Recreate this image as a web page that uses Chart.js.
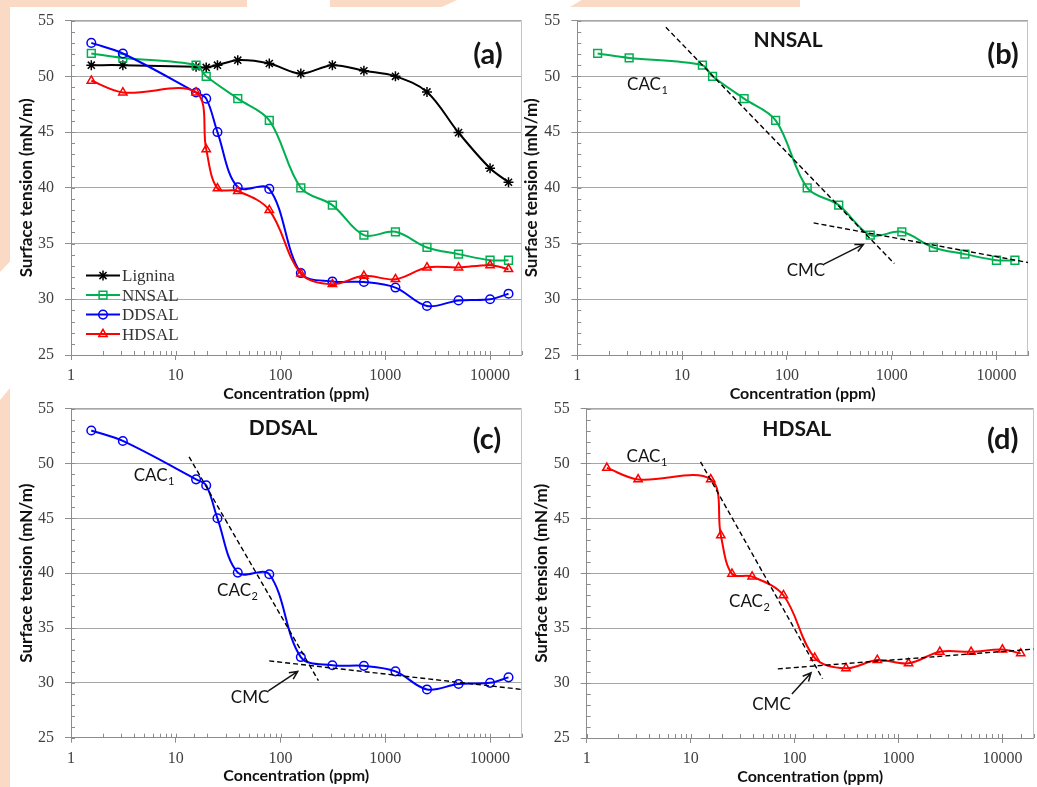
<!DOCTYPE html>
<html>
<head>
<meta charset="utf-8">
<script src="https://cdn.jsdelivr.net/npm/chart.js@4.4.1/dist/chart.umd.min.js"></script>
<style>
  html, body { margin: 0; padding: 0; background: #fff; width: 1037px; height: 787px; overflow: hidden; }
  .deco { position: absolute; background: #fadac4; }
  canvas { position: absolute; }
</style>
</head>
<body>
<div class="deco" style="left:0;top:0;width:247px;height:7px"></div>
<div class="deco" style="left:330px;top:0;width:127px;height:7px;clip-path:polygon(0 0,100% 0,88% 100%,0 100%)"></div>
<div class="deco" style="left:570px;top:0;width:230px;height:7px;clip-path:polygon(5% 0,100% 0,100% 100%,0 100%)"></div>
<div class="deco" style="left:0;top:7px;width:10px;height:265px;clip-path:polygon(0 0,100% 0,100% 96%,0 100%)"></div>
<div class="deco" style="left:0;top:388px;width:10px;height:399px;clip-path:polygon(0 3%,100% 0,100% 100%,0 100%)"></div>

<canvas id="chartA" width="530" height="406" style="left:0;top:0"></canvas>
<canvas id="chartB" width="517" height="406" style="left:520px;top:0"></canvas>
<canvas id="chartC" width="530" height="399" style="left:0;top:388px"></canvas>
<canvas id="chartD" width="520" height="399" style="left:520px;top:388px"></canvas>

<script>
// concentración (ppm) y tensión superficial (mN/m)
const concentration = [1.5625, 3.125, 15.625, 19.53, 25, 39.06, 78.125, 156.25, 312.5, 625, 1250, 2500, 5000, 10000, 15000];
const lignina = [51.0, 51.0, 50.85, 50.8, 51.0, 51.45, 51.15, 50.25, 51.0, 50.5, 50.0, 48.6, 44.95, 41.75, 40.5];
const nnsal   = [52.05, 51.65, 51.0, 50.0, null, 48.0, 46.05, 40.0, 38.45, 35.75, 36.05, 34.65, 34.05, 33.5, 33.5];
const ddsal   = [53.0, 52.05, 48.55, 48.0, 45.0, 40.05, 39.9, 32.35, 31.6, 31.55, 31.05, 29.4, 29.9, 30.0, 30.5];
const hdsal   = [49.6, 48.55, 48.55, 43.45, 39.95, 39.7, 38.0, 32.3, 31.35, 32.1, 31.8, 32.85, 32.85, 33.05, 32.7];

const xTickLabels = [1, 10, 100, 1000, 10000];
const yTickLabels = [25, 30, 35, 40, 45, 50, 55];

// rectas tangentes (líneas discontinuas)
const nnsalSlopeX = [7, 1060],      nnsalSlopeY = [54.4, 33.2];
const nnsalPlateauX = [180, 20000], nnsalPlateauY = [36.85, 33.3];
const ddsalSlopeX = [13.4, 230],    ddsalSlopeY = [50.6, 30.2];
const ddsalPlateauX = [78, 20000],  ddsalPlateauY = [32.0, 29.4];
const hdsalSlopeX = [12.45, 186],   hdsalSlopeY = [50.15, 30.4];
const hdsalPlateauX = [69, 20000],  hdsalPlateauY = [31.3, 33.1];

const axisColor = '#8c8c8c';
const gridColor = '#a6a6a6';
const frameColor = '#c4c4c4';
const clear = 'rgba(0,0,0,0)';

function series(label, values, color, style, radius, order) {
  return {
    label: label,
    order: order,
    data: concentration.map((x, i) => ({ x: x, y: values[i] })).filter(p => p.y !== null),
    borderColor: color,
    borderWidth: 2,
    tension: 0.35,
    pointStyle: style,
    pointRadius: radius,
    pointHoverRadius: radius,
    pointBorderWidth: 1.5,
    pointBorderColor: color,
    pointBackgroundColor: clear
  };
}

function guide(xs, ys) {
  return {
    label: '',
    order: 0,
    data: xs.map((x, i) => ({ x: x, y: ys[i] })),
    borderColor: '#000',
    borderWidth: 1.4,
    borderDash: [5, 3],
    pointRadius: 0,
    tension: 0
  };
}

const sLignina = () => series('Lignina', lignina, '#000000', 'star', 5, 4);
const sNnsal = () => series('NNSAL', nnsal, '#00b050', 'rect', 5.5, 3);
const sDdsal = () => series('DDSAL', ddsal, '#0000ff', 'circle', 4.3, 2);
const sHdsal = () => series('HDSAL', hdsal, '#ff0000', 'triangle', 4.8, 1);

// marco del área de trazado y marcas menores hacia dentro
const frameTicks = {
  id: 'frameTicks',
  beforeDatasetsDraw(chart) {
    const { ctx, chartArea: a, scales: { x, y } } = chart;
    ctx.save();
    ctx.lineWidth = 1;
    ctx.strokeStyle = frameColor;
    ctx.beginPath();
    ctx.moveTo(a.left, Math.round(a.top) + 0.5);
    ctx.lineTo(Math.round(a.right) - 0.5, Math.round(a.top) + 0.5);
    ctx.lineTo(Math.round(a.right) - 0.5, a.bottom);
    ctx.stroke();
    ctx.strokeStyle = axisColor;
    ctx.beginPath();
    x.ticks.forEach(t => {
      const px = Math.round(x.getPixelForValue(t.value)) + 0.5;
      ctx.moveTo(px, a.bottom);
      ctx.lineTo(px, a.bottom - 4);
    });
    y.ticks.forEach(t => {
      const py = Math.round(y.getPixelForValue(t.value)) + 0.5;
      ctx.moveTo(a.left, py);
      ctx.lineTo(a.left + 4, py);
    });
    ctx.stroke();
    ctx.restore();
  }
};

// textos, flechas y letras del panel
function notesPlugin(notes) {
  return {
    id: 'notes',
    afterDatasetsDraw(chart) {
      const { ctx, scales: { x, y } } = chart;
      ctx.save();
      ctx.fillStyle = '#141414';
      ctx.strokeStyle = '#141414';
      ctx.textBaseline = 'middle';
      notes.forEach(n => {
        if (n.arrow) {
          const x0 = x.getPixelForValue(n.arrow[0]), y0 = y.getPixelForValue(n.arrow[1]);
          const x1 = x.getPixelForValue(n.arrow[2]), y1 = y.getPixelForValue(n.arrow[3]);
          const ang = Math.atan2(y1 - y0, x1 - x0);
          ctx.lineWidth = 1.5;
          ctx.beginPath();
          ctx.moveTo(x0, y0);
          ctx.lineTo(x1, y1);
          ctx.moveTo(x1 - 9 * Math.cos(ang - 0.45), y1 - 9 * Math.sin(ang - 0.45));
          ctx.lineTo(x1, y1);
          ctx.lineTo(x1 - 9 * Math.cos(ang + 0.45), y1 - 9 * Math.sin(ang + 0.45));
          ctx.stroke();
          return;
        }
        const px = x.getPixelForValue(n.x), py = y.getPixelForValue(n.y);
        ctx.font = n.font;
        ctx.textAlign = 'center';
        ctx.fillText(n.text, px, py);
        if (n.sub) {
          const w = ctx.measureText(n.text).width;
          ctx.font = '11px Lato';
          ctx.textAlign = 'left';
          ctx.fillText(n.sub, px + w / 2 + 0.5, py + 6);
        }
      });
      ctx.restore();
    }
  };
}

// leyenda dentro del área (panel a)
const insideLegend = {
  id: 'insideLegend',
  afterDatasetsDraw(chart) {
    const { ctx, chartArea: a } = chart;
    const order = ['Lignina', 'NNSAL', 'DDSAL', 'HDSAL'];
    ctx.save();
    order.forEach((name, i) => {
      const ds = chart.data.datasets.find(d => d.label === name);
      const x0 = a.left + 15, yy = a.top + 255 + i * 19.5;
      ctx.strokeStyle = ds.borderColor;
      ctx.lineWidth = 2;
      ctx.setLineDash([]);
      ctx.beginPath();
      ctx.moveTo(x0, yy);
      ctx.lineTo(x0 + 34, yy);
      ctx.stroke();
      ctx.lineWidth = 1.5;
      ctx.fillStyle = clear;
      Chart.helpers.drawPoint(ctx, { pointStyle: ds.pointStyle, radius: ds.pointRadius, borderWidth: 1.5, rotation: 0 }, x0 + 17, yy);
      ctx.fillStyle = '#333';
      ctx.font = '17px "Liberation Serif"';
      ctx.textAlign = 'left';
      ctx.textBaseline = 'middle';
      ctx.fillText(name, x0 + 36, yy + 1);
    });
    ctx.restore();
  }
};

const titleFont = 'bold 21px Lato';
const letterFont = 'bold 29px Lato';
const noteFont = '17px Lato';

function makePanel(id, box, area, datasets, notes, extra) {
  const yWidth = area.L - box.x - box.padLeft;
  const xHeight = 48;
  const plugins = [frameTicks, notesPlugin(notes)].concat(extra || []);
  new Chart(document.getElementById(id), {
    type: 'line',
    data: { datasets: datasets },
    options: {
      responsive: false,
      animation: false,
      layout: {
        padding: {
          left: box.padLeft,
          top: area.T - box.y,
          right: box.x + box.w - area.R,
          bottom: box.y + box.h - area.B - xHeight
        }
      },
      plugins: { legend: { display: false }, tooltip: { enabled: false } },
      scales: {
        x: {
          type: 'logarithmic',
          min: 1,
          max: 20000,
          afterFit: s => { s.height = xHeight; },
          border: { color: axisColor },
          grid: {
            drawOnChartArea: false,
            tickLength: 5,
            tickColor: c => xTickLabels.includes(c.tick.value) ? axisColor : clear
          },
          ticks: {
            autoSkip: false,
            maxRotation: 0,
            padding: 6,
            color: '#404040',
            font: { family: '"Liberation Serif"', size: 16 },
            callback: v => xTickLabels.includes(v) ? String(v) : ''
          },
          title: {
            display: true,
            text: 'Concentration (ppm)',
            color: '#111',
            padding: 0,
            font: { family: 'Lato', size: 16, weight: 'bold' }
          }
        },
        y: {
          min: 25,
          max: 55,
          afterFit: s => { s.width = yWidth; },
          border: { color: axisColor },
          grid: {
            tickLength: 6,
            color: c => yTickLabels.includes(c.tick.value) ? gridColor : clear,
            tickColor: c => yTickLabels.includes(c.tick.value) ? axisColor : clear
          },
          ticks: {
            stepSize: 1,
            autoSkip: false,
            padding: 11,
            color: '#404040',
            font: { family: '"Liberation Serif"', size: 16 },
            callback: v => yTickLabels.includes(v) ? String(v) : ''
          },
          title: {
            display: true,
            text: 'Surface tension (mN/m)',
            color: '#111',
            padding: 0,
            font: { family: 'Lato', size: 17, weight: 'bold' }
          }
        }
      }
    },
    plugins: plugins
  });
}

// (a) todas las series
makePanel('chartA',
  { x: 0, y: 0, w: 530, h: 406, padLeft: 16 },
  { L: 71, T: 17.3, R: 521.6, B: 355 },
  [sLignina(), sNnsal(), sDdsal(), sHdsal()],
  [{ text: '(a)', x: 9550, y: 51.92, font: letterFont }],
  [insideLegend]);

// (b) NNSAL
makePanel('chartB',
  { x: 520, y: 0, w: 517, h: 406, padLeft: 1 },
  { L: 577.3, T: 17.3, R: 1028, B: 355 },
  [sNnsal(), guide(nnsalSlopeX, nnsalSlopeY), guide(nnsalPlateauX, nnsalPlateauY)],
  [
    { text: 'NNSAL', x: 102.5, y: 53.25, font: titleFont },
    { text: '(b)', x: 11540, y: 51.92, font: letterFont },
    { text: 'CAC', sub: '1', x: 4.33, y: 49.3, font: noteFont },
    { text: 'CMC', x: 152, y: 32.55, font: noteFont },
    { arrow: [226, 33.15, 537, 34.92] }
  ]);

// (c) DDSAL
makePanel('chartC',
  { x: 0, y: 388, w: 530, h: 399, padLeft: 16 },
  { L: 71, T: 401.7, R: 521.6, B: 737.7 },
  [sDdsal(), guide(ddsalSlopeX, ddsalSlopeY), guide(ddsalPlateauX, ddsalPlateauY)],
  [
    { text: 'DDSAL', x: 105.6, y: 53.19, font: titleFont },
    { text: '(c)', x: 9340, y: 52.2, font: letterFont },
    { text: 'CAC', sub: '1', x: 5.76, y: 48.9, font: noteFont },
    { text: 'CAC', sub: '2', x: 36, y: 38.39, font: noteFont },
    { text: 'CMC', x: 51.2, y: 28.66, font: noteFont },
    { arrow: [76.5, 29.26, 146, 31.04] }
  ]);

// (d) HDSAL
makePanel('chartD',
  { x: 520, y: 388, w: 520, h: 399, padLeft: 11.5 },
  { L: 586.7, T: 401, R: 1038.3, B: 738 },
  [sHdsal(), guide(hdsalSlopeX, hdsalSlopeY), guide(hdsalPlateauX, hdsalPlateauY)],
  [
    { text: 'HDSAL', x: 105, y: 53.13, font: titleFont },
    { text: '(d)', x: 10070, y: 52.15, font: letterFont },
    { text: 'CAC', sub: '1', x: 3.52, y: 50.64, font: noteFont },
    { text: 'CAC', sub: '2', x: 34.1, y: 37.42, font: noteFont },
    { text: 'CMC', x: 60, y: 28.05, font: noteFont },
    { arrow: [94.3, 29.0, 144, 30.93] }
  ]);
</script>
</body>
</html>
